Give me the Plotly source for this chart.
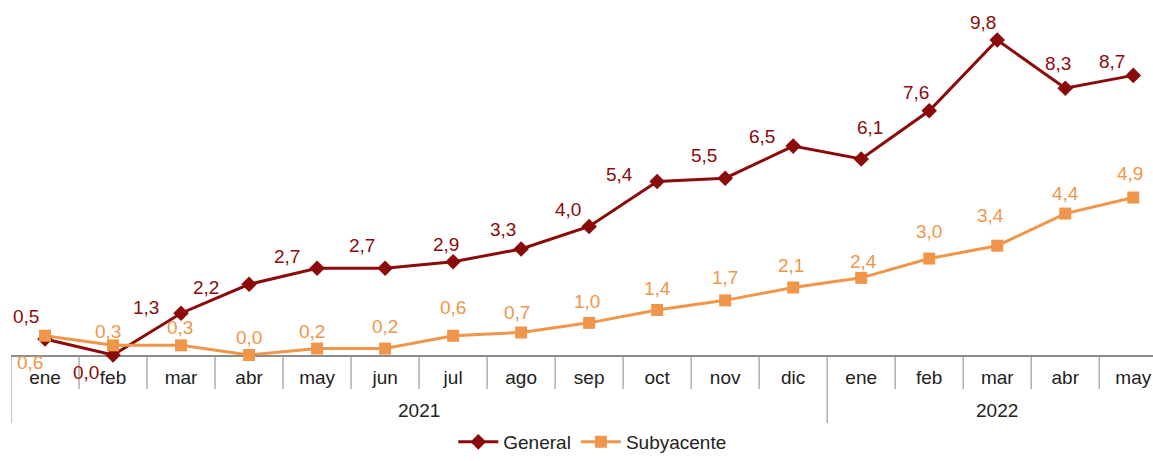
import plotly.graph_objects as go

# ---- data ----
years = ["2021"] * 12 + ["2022"] * 5
months = ["ene", "feb", "mar", "abr", "may", "jun", "jul", "ago", "sep", "oct", "nov", "dic",
          "ene", "feb", "mar", "abr", "may"]
general = [0.5, 0.0, 1.3, 2.2, 2.7, 2.7, 2.9, 3.3, 4.0, 5.4, 5.5, 6.5, 6.1, 7.6, 9.8, 8.3, 8.7]
subyacente = [0.6, 0.3, 0.3, 0.0, 0.2, 0.2, 0.6, 0.7, 1.0, 1.4, 1.7, 2.1, 2.4, 3.0, 3.4, 4.4, 4.9]

# ---- styles ----
C_GEN = "#8B0B0B"
C_SUB = "#F0964A"
C_DIV = "#b0b0b0"
FONT = "Liberation Sans, Arial, sans-serif"

# label offsets in pixels (dx, dy with dy positive = down on screen)
gen_off = [(-19, -22), (-27, 17), (-35, -6), (-43, 3), (-30, -12), (-23, -23), (-7, -17),
           (-18, -19), (-21, -17), (-38, -7), (-21, -23), (-31, -10), (9, -31), (-13, -18),
           (-14, -18), (-7, -25), (-21, -14)]
sub_off = [(-15, 27), (-5, -14), (-1, -18), (0, -18), (-5, -17), (0, -22), (0, -28),
           (-4, -20), (-2, -21), (0, -22), (0, -23), (-2, -22), (2, -16), (0, -27),
           (-7, -30), (0, -20), (-3, -24)]

def fmt(v):
    return f"{v:.1f}".replace(".", ",")

idx = list(range(len(months)))

fig = go.Figure()
fig.add_trace(go.Scatter(
    x=idx, y=general, name="General", mode="lines+markers",
    line=dict(color=C_GEN, width=3),
    marker=dict(symbol="diamond", size=12, color=C_GEN),
    cliponaxis=False,
))
fig.add_trace(go.Scatter(
    x=idx, y=subyacente, name="Subyacente", mode="lines+markers",
    line=dict(color=C_SUB, width=3),
    marker=dict(symbol="square", size=12, color=C_SUB),
    cliponaxis=False,
))

for series, color, offs in ((general, C_GEN, gen_off), (subyacente, C_SUB, sub_off)):
    for i, v in enumerate(series):
        dx, dy = offs[i]
        fig.add_annotation(x=i, y=v, text=fmt(v), showarrow=False,
                           xshift=dx, yshift=-dy,
                           font=dict(family=FONT, size=19, color=color))

# category dividers (month boundaries short, year boundaries long)
for k in idx:
    new_year = (k == 0) or (years[k] != years[k - 1])
    fig.add_shape(type="line", xref="x", yref="paper", ysizemode="pixel", yanchor=0,
                  x0=k - 0.5, x1=k - 0.5, y0=0, y1=-(68 if new_year else 34),
                  line=dict(color=C_DIV, width=1.5), layer="below")

# year group labels
groups = []
for k, yv in enumerate(years):
    if not groups or groups[-1][0] != yv:
        groups.append([yv, k, k])
    else:
        groups[-1][2] = k
for yv, a, b in groups:
    fig.add_annotation(x=(a + b) / 2, y=0, xref="x", yref="paper", text=yv, showarrow=False,
                       yshift=-55, yanchor="middle",
                       font=dict(family=FONT, size=19, color="#222222"))

fig.update_layout(
    width=1153, height=461,
    margin=dict(l=11, r=0, t=10, b=106),
    paper_bgcolor="white", plot_bgcolor="white",
    font=dict(family=FONT, size=19, color="#222222"),
    showlegend=True,
    legend=dict(orientation="h", x=0.509, xanchor="center", yref="container",
                y=0.0, yanchor="bottom", font=dict(size=19, color="#222222"),
                itemwidth=40, bgcolor="rgba(0,0,0,0)", borderwidth=0),
    xaxis=dict(
        range=[-0.5, 16.29],
        tickmode="array", tickvals=idx, ticktext=months,
        showline=True, linecolor="#8c8c8c", linewidth=2,
        ticks="", ticklabelstandoff=4,
        showgrid=False, zeroline=False,
        tickfont=dict(family=FONT, size=19, color="#222222"),
        layer="below traces",
    ),
    yaxis=dict(range=[0, 345 / 32.14], visible=False, showgrid=False, zeroline=False),
)

fig.write_html("out.html", config={"displayModeBar": False},
               post_script="document.body.style.margin='0px';")
